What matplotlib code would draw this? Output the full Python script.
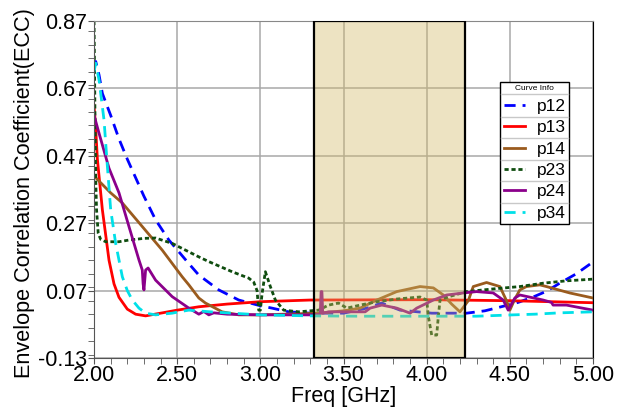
import numpy as np
import matplotlib
matplotlib.use('Agg')
import matplotlib.pyplot as plt
from matplotlib.lines import Line2D
from matplotlib.ticker import MultipleLocator, FormatStrFormatter

plt.rcParams['font.family'] = ['Liberation Sans', 'DejaVu Sans']

# p12 (blue dashed)
f12 = [2.00, 2.01, 2.03, 2.05, 2.10, 2.15, 2.20, 2.25, 2.30, 2.37, 2.45, 2.57, 2.63, 2.75, 2.87,
       3.00, 3.07, 3.17, 3.30, 3.50, 3.64, 3.73, 3.84, 4.03, 4.24, 4.35, 4.44, 4.55, 4.64, 4.72,
       4.80, 4.90, 5.00]
p12 = [0.73, 0.75, 0.71, 0.655, 0.59, 0.52, 0.46, 0.405, 0.35, 0.28, 0.22, 0.15, 0.116, 0.072, 0.042,
       0.025, 0.018, 0.007, 0.003, 0.003, 0.018, 0.033, 0.012, 0.003, 0.003, 0.010, 0.021, 0.035, 0.051, 0.068,
       0.092, 0.12, 0.155]

# p13 (red)
f13 = [2.00, 2.01, 2.02, 2.05, 2.09, 2.12, 2.15, 2.20, 2.25, 2.31, 2.40, 2.50, 2.63, 2.80, 3.00,
       3.30, 4.00, 4.50, 5.00]
p13 = [0.62, 0.55, 0.46, 0.31, 0.16, 0.09, 0.05, 0.015, 0.0, -0.005, 0.003, 0.012, 0.022, 0.03, 0.037,
       0.042, 0.043, 0.04, 0.034]

# p14 (brown)
f14 = [2.00, 2.05, 2.10, 2.17, 2.29, 2.41, 2.53, 2.57, 2.63, 2.67, 2.77, 2.87, 3.00, 3.35, 3.50,
       3.60, 3.70, 3.82, 3.96, 4.04, 4.10, 4.15, 4.20, 4.25, 4.28, 4.36, 4.44, 4.48, 4.50, 4.53,
       4.56, 4.60, 4.68, 4.72, 4.86, 5.00]
p14 = [0.41, 0.385, 0.36, 0.33, 0.26, 0.19, 0.111, 0.087, 0.048, 0.033, 0.007, -0.002, -0.002, 0.003, 0.010,
       0.018, 0.042, 0.067, 0.082, 0.078, 0.057, 0.03, 0.007, 0.04, 0.082, 0.094, 0.082, 0.04, 0.012, 0.045,
       0.072, 0.082, 0.087, 0.082, 0.063, 0.048]

# p23 (dark green dotted)
f23 = [2.000, 2.005, 2.010, 2.015, 2.025, 2.04, 2.07, 2.15, 2.21, 2.30, 2.37, 2.47, 2.57, 2.63, 2.69,
       2.83, 2.93, 2.96, 2.98, 2.99, 3.00, 3.01, 3.03, 3.06, 3.09, 3.14, 3.23, 3.35, 3.41, 3.47,
       3.52, 3.60, 3.70, 3.82, 3.96, 4.00, 4.01, 4.03, 4.06, 4.07, 4.08, 4.12, 4.24, 4.40, 4.56,
       4.70, 4.84, 5.00]
p23 = [0.87, 0.62, 0.40, 0.31, 0.24, 0.222, 0.215, 0.215, 0.22, 0.225, 0.226, 0.21, 0.185, 0.17, 0.156,
       0.126, 0.107, 0.095, 0.07, 0.012, 0.012, 0.06, 0.126, 0.082, 0.042, 0.012, 0.007, 0.012, 0.027, 0.033,
       0.018, 0.027, 0.037, 0.045, 0.051, 0.042, -0.007, -0.062, -0.062, -0.007, 0.042, 0.05, 0.067, 0.075, 0.082,
       0.092, 0.099, 0.104]

# p24 (purple)
f24 = [2.00, 2.03, 2.09, 2.15, 2.21, 2.27, 2.29, 2.295, 2.30, 2.31, 2.325, 2.37, 2.47, 2.57, 2.61,
       2.63, 2.66, 2.69, 2.72, 2.80, 3.00, 3.30, 3.36, 3.365, 3.37, 3.375, 3.41, 3.53, 3.63, 3.66,
       3.73, 3.82, 3.90, 3.94, 4.04, 4.12, 4.22, 4.30, 4.40, 4.46, 4.49, 4.53, 4.56, 4.70, 4.75,
       4.76, 4.84, 5.00]
p24 = [0.59, 0.537, 0.433, 0.36, 0.26, 0.161, 0.131, 0.09, 0.072, 0.131, 0.137, 0.101, 0.052, 0.018, 0.006,
       0.0, 0.008, -0.002, 0.004, 0.0, -0.002, -0.002, 0.0, 0.067, 0.067, 0.003, 0.007, 0.007, 0.007, 0.018,
       0.027, 0.018, 0.003, 0.018, 0.042, 0.057, 0.063, 0.067, 0.063, 0.042, 0.012, 0.048, 0.057, 0.042, 0.035,
       0.027, 0.027, 0.012]

# p34 (cyan dashed)
f34 = [2.00, 2.01, 2.03, 2.06, 2.08, 2.10, 2.13, 2.17, 2.20, 2.23, 2.27, 2.31, 2.37, 2.47, 2.51,
       2.57, 2.70, 2.83, 3.00, 3.30, 3.60, 4.00, 4.30, 4.52, 4.65, 4.80, 5.00]
p34 = [0.72, 0.745, 0.695, 0.576, 0.44, 0.31, 0.21, 0.111, 0.07, 0.042, 0.018, 0.003, -0.002, 0.003, 0.007,
       0.012, 0.007, 0.003, -0.002, -0.005, -0.006, -0.006, -0.006, -0.002, 0.0, 0.004, 0.007]

band = (3.32, 4.23)

fig = plt.figure(figsize=(6.27, 4.07), dpi=100)
ax = fig.add_axes([0.15, 0.1204, 0.7958, 0.828])

lw = 2.0
ax.plot(f12, p12, color='#0000ff', lw=lw, dashes=(4, 2.5), label='p12')
ax.plot(f13, p13, color='#ff0000', lw=lw, label='p13')
ax.plot(f14, p14, color='#9a5b1e', lw=lw, label='p14')
ax.plot(f23, p23, color='#0f4d0f', lw=lw, dashes=(1.5, 1), label='p23')
ax.plot(f24, p24, color='#8b008b', lw=lw, label='p24')
ax.plot(f34, p34, color='#00e0e8', lw=lw, dashes=(4, 2.5), label='p34')

# highlighted band drawn over curves
ax.axvspan(band[0], band[1], facecolor=(0.824, 0.725, 0.404, 0.4), edgecolor='black', lw=1.6, zorder=5)

ax.set_xlim(2.0, 5.0)
ax.set_ylim(-0.13, 0.87)
ax.set_xticks(np.arange(2.0, 5.01, 0.5))
ax.set_yticks([-0.13, 0.07, 0.27, 0.47, 0.67, 0.87])
ax.xaxis.set_minor_locator(MultipleLocator(0.1))
ax.yaxis.set_minor_locator(MultipleLocator(0.04))
ax.xaxis.set_major_formatter(FormatStrFormatter('%.2f'))
ax.yaxis.set_major_formatter(FormatStrFormatter('%.2f'))
ax.tick_params(which='both', direction='out', labelsize=15.5, pad=1)
ax.tick_params(which='major', length=4, color='#555555')
ax.tick_params(which='minor', length=4, color='#555555')
ax.grid(True, which='major', color='#a8a8a8', lw=1.1)

ax.spines['left'].set_color('#555555')
ax.spines['bottom'].set_color('#555555')
ax.spines['top'].set_color('#888888')
ax.spines['right'].set_color('black')

ax.set_xlabel('Freq [GHz]', fontsize=15.5, labelpad=0)
ax.set_ylabel('Envelope Correlation Coefficient(ECC)', fontsize=15.6, labelpad=1)
ax.yaxis.set_label_coords(-0.118, 0.488)

leg = ax.legend(loc='upper left', bbox_to_anchor=(0.814, 0.819), title='Curve Info',
                fontsize=12.5, title_fontsize=6, frameon=True, fancybox=False,
                edgecolor='black', framealpha=1, borderpad=0.2, labelspacing=0.36,
                handlelength=1.2, handletextpad=0.7, borderaxespad=0)
leg.get_frame().set_linewidth(1.0)
leg.set_zorder(10)

# grey separator lines between legend rows
fig.canvas.draw()
inv = fig.transFigure.inverted()
lb = leg.get_window_extent()
texts = leg.get_texts()
edges = [leg.get_title().get_window_extent().y0 - 2]
for a, b in zip(texts[:-1], texts[1:]):
    edges.append((a.get_window_extent().y0 + b.get_window_extent().y1) / 2)
for y in edges:
    (x0, yy), = inv.transform([(lb.x0 + 1, y)])
    (x1, _), = inv.transform([(lb.x1 - 1, y)])
    fig.add_artist(Line2D([x0, x1], [yy, yy], color='#c8c8c8', lw=1.0, zorder=11))

fig.savefig('out.png', dpi=100)
